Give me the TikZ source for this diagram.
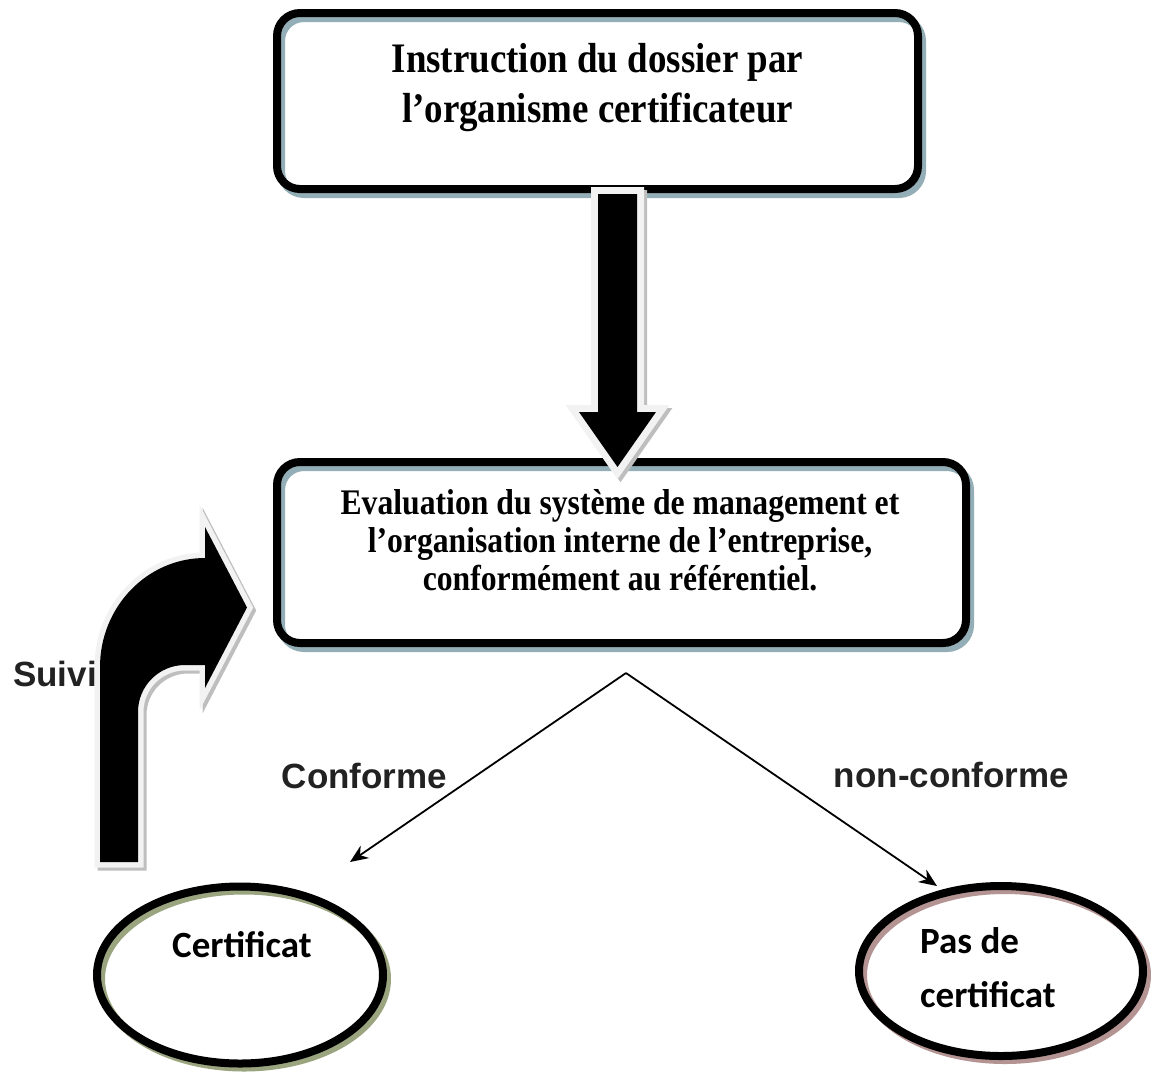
\documentclass[tikz,border=0pt]{standalone}
\usepackage{fontspec}
\setmainfont{Liberation Serif}
\newfontfamily\boxfont[FakeStretch=0.88]{Liberation Serif}
\newfontfamily\labelfont{Liberation Sans}
\newfontfamily\calfont{Carlito}
\usetikzlibrary{shapes.geometric,arrows.meta}
\definecolor{boxshade}{HTML}{93AEB6}
\definecolor{greenshade}{HTML}{9AA47F}
\definecolor{roseshade}{HTML}{B49393}
\definecolor{arrowrim}{HTML}{F2F2F2}
\definecolor{arrowshade}{HTML}{BEBEBE}
\definecolor{labelgray}{HTML}{222222}

\begin{document}
\begin{tikzpicture}[x=1pt,y=-1pt,
  stagebox/.style={draw=black, line width=8pt, rounded corners=23pt, inner sep=0pt,
    preaction={draw=boxshade, line width=8pt, transform canvas={shift={(4pt,-5pt)}}}},
  outcome/.style={ellipse, draw=black, line width=8pt, inner sep=0pt,
    preaction={draw=#1, line width=8pt, transform canvas={shift={(4pt,-4pt)}}}},
  boxtext/.style={align=center, inner sep=0pt, anchor=base},
  flowlabel/.style={font=\labelfont\bfseries\fontsize{35}{40}\selectfont, text=labelgray, inner sep=0pt, anchor=base},
  ovaltext/.style={font=\calfont\bfseries\fontsize{37}{54}\selectfont, inner sep=0pt, anchor=base},
  blockarrow/.style={fill=black, line join=miter,
    preaction={draw=arrowshade, fill=arrowshade, line width=#1, transform canvas={shift={(3pt,-3pt)}}},
    preaction={draw=arrowrim, fill=arrowrim, line width=#1}},
  branch/.style={line width=1.8pt, -{Stealth[length=18pt,width=15pt]}}
]
\useasboundingbox (0,0) rectangle (1151,1072);

% process boxes (multi-line texts are placed by the baseline of their last line)
\node[stagebox, minimum width=641pt, minimum height=176pt] (dossier) at (597.5,101) {};
\node[boxtext, font=\boxfont\bfseries\fontsize{42}{50}\selectfont] (dossiertext) at (597.5,122)
  {Instruction du dossier par\\l’organisme certificateur};

\node[stagebox, minimum width=689pt, minimum height=181pt] (audit) at (621.5,552.5) {};
\node[boxtext, font=\boxfont\bfseries\fontsize{36}{38}\selectfont] (audittext) at (620,590)
  {Evaluation du système de management et\\l’organisation interne de l’entreprise,\\conformément au référentiel.};

% outcomes
\node[outcome=greenshade, minimum width=286pt, minimum height=177pt] (certif) at (240,975) {};
\node[ovaltext] (certiftext) at (242,957) {Certificat};

\node[outcome=roseshade, minimum width=284pt, minimum height=170pt] (nocertif) at (1001,971) {};
\node[ovaltext, align=left, anchor=base west] (nocertiftext) at (920,1007) {Pas de\\certificat};

% thick downward arrow between the two boxes
\path[blockarrow=14pt] (598,194) -- (637,194) -- (637,412) -- (656,412) -- (617.5,467)
  -- (579,412) -- (598,412) -- cycle;

% bent "Suivi" arrow coming back up into the evaluation box
\path[blockarrow=11pt] (100,862) -- (100,667)
  .. controls (100,607) and (147,558) .. (205,558)
  -- (205,527) -- (247,607.5) -- (205,688) -- (205,665) -- (185,665)
  .. controls (159,665) and (138,686) .. (138,712)
  -- (138,862) -- cycle;

% decision branches
\coordinate (split) at (626,673);
\coordinate (goodend) at (350,862);
\coordinate (badend) at (937,886);
\draw[branch] (split) -- (goodend);
\draw[branch] (split) -- (badend);

% labels
\node[flowlabel] (suivi) at (55,686) {Suivi};
\node[flowlabel] (conf) at (364.5,788) {Conforme};
\node[flowlabel] (nonconf) at (951.5,787) {non-conforme};
\end{tikzpicture}
\end{document}
